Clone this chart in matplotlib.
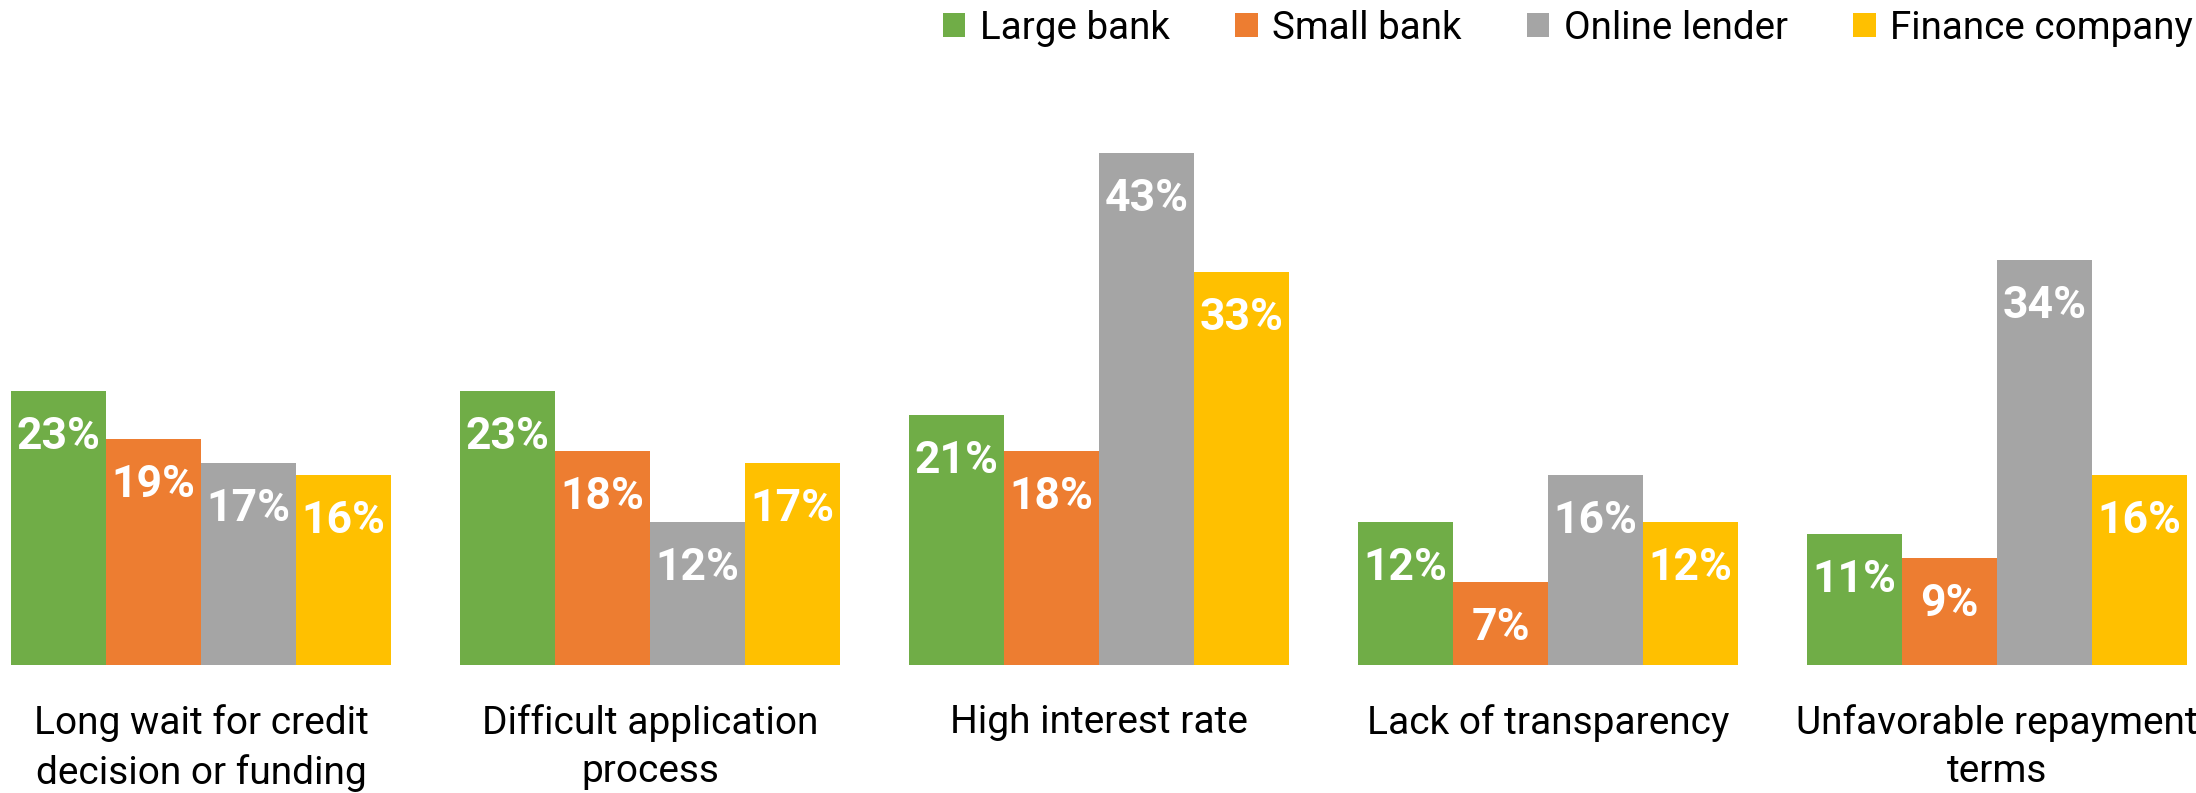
import numpy as np
import matplotlib
matplotlib.use("Agg")
import matplotlib.pyplot as plt

plt.rcParams['font.family'] = ['Roboto', 'DejaVu Sans']

categories = ["Long wait for credit\ndecision or funding",
              "Difficult application\nprocess",
              "High interest rate",
              "Lack of transparency",
              "Unfavorable repayment\nterms"]
series_names = ["Large bank", "Small bank", "Online lender", "Finance company"]
large_bank = [23, 23, 21, 12, 11]
small_bank = [19, 18, 18, 7, 9]
online_lender = [17, 12, 43, 16, 34]
finance_company = [16, 17, 33, 12, 16]
colors = ["#70AD47", "#ED7D31", "#A5A5A5", "#FFC000"]

fig = plt.figure(figsize=(21.96, 7.93), dpi=100)
ax = fig.add_axes([0, 128 / 793, 1, 595 / 793])

x = np.arange(len(categories))
width = 0.2116
all_series = [large_bank, small_bank, online_lender, finance_company]
for k, (vals, name, col) in enumerate(zip(all_series, series_names, colors)):
    pos = x + (k - 1.5) * width
    ax.bar(pos, vals, width, color=col, label=name)
    # value labels sit inside the top of each bar
    for xi, v in zip(pos, vals):
        ax.annotate(f"{v}%", (xi, v), xytext=(0, -18), textcoords="offset points",
                    ha="center", va="top", color="white", fontsize=32,
                    fontweight="bold")

for xi, cat in zip(x, categories):
    ax.annotate(cat, (xi, 0), xytext=(0, -28), textcoords="offset points",
                ha="center", va="top", fontsize=28, color="black",
                linespacing=1.4, annotation_clip=False)

ax.set_xlim(-201 / 449, (2196 - 201) / 449)
ax.set_ylim(0, 50)
ax.axis("off")

fig.legend(loc="upper left", bbox_to_anchor=(943 / 2196, 0.988), ncol=4, frameon=False,
           fontsize=27.8, handlelength=0.58, handleheight=0.58, handletextpad=0.37,
           columnspacing=1.7, borderpad=0, borderaxespad=0)

fig.savefig("out.png", dpi=100, facecolor="white")
